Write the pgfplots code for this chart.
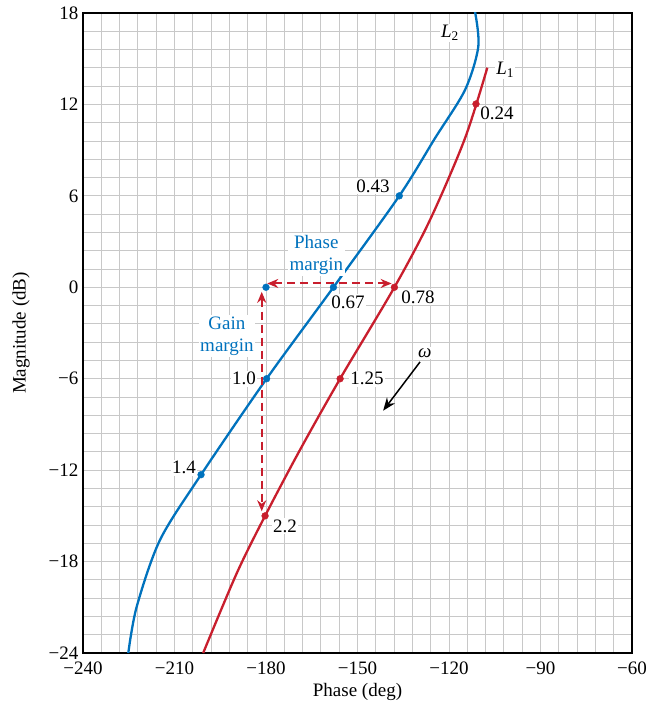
\documentclass[border=0pt]{standalone}
\usepackage{fontspec}
\setmainfont{Liberation Serif}
\usepackage{pgfplots}
\pgfplotsset{compat=1.18}
\usetikzlibrary{arrows.meta}
\definecolor{cblue}{RGB}{0,114,189}
\definecolor{cred}{RGB}{200,30,45}
\definecolor{gridc}{RGB}{200,200,200}
\begin{document}
\begin{tikzpicture}[font=\fontsize{19}{22}\selectfont]
\begin{axis}[
  scale only axis, width=549pt, height=640pt,
  xmin=-240, xmax=-60, ymin=-24, ymax=18,
  xtick={-240,-210,...,-60}, ytick={-24,-18,...,18},
  xticklabels={−240,−210,−180,−150,−120,−90,−60},
  yticklabels={−24,−18,−12,−6,0,6,12,18},
  minor x tick num=4, minor y tick num=4,
  grid=both,
  minor grid style={gridc, line width=0.9pt},
  major grid style={gridc, line width=0.9pt},
  tick style={draw=none},
  axis line style={line width=1.2pt},
  xlabel={Phase (deg)}, ylabel={Magnitude (dB)},
  xticklabel style={inner sep=1pt, yshift=-8pt},
  yticklabel style={inner sep=0.5pt, xshift=-4pt},
  xlabel style={at={(axis description cs:0.5,0)}, anchor=center, yshift=-39pt},
  ylabel style={at={(axis description cs:0,0.5)}, anchor=center, rotate=0, yshift=62pt},
]
% L2 (blue)
\addplot[cblue, line width=2.3pt, smooth, tension=0.5] coordinates {
  (-225.15,-24) (-222.39,-20.96) (-214.75,-16.58) (-201.3,-12.3) (-179.8,-6.0)
  (-157.9,0) (-136.3,6.0) (-124.6,9.78) (-114.75,12.95) (-110.39,15.79)
  (-111.48,18.09)
};
% L1 (red)
\addplot[cred, line width=2.3pt, smooth, tension=0.5] coordinates {
  (-200.6,-24) (-189.6,-18.77) (-180.3,-15.0) (-168.85,-10.67)
  (-155.7,-6.0) (-137.9,0) (-126.23,4.42) (-114.75,9.78) (-107.44,14.41)
};
% dashed margin arrows
\addplot[cred, line width=2pt, dash pattern=on 8pt off 5pt,
  {Stealth[length=11pt,width=9pt]}-{Stealth[length=11pt,width=9pt]}] coordinates {(-181.4,-0.3) (-181.4,-14.7)};
\addplot[cred, line width=2pt, dash pattern=on 8pt off 5pt,
  {Stealth[length=11pt,width=9pt]}-{Stealth[length=11pt,width=9pt]}] coordinates {(-179.6,0.25) (-138.8,0.25)};
% omega arrow
\addplot[black, line width=1.5pt, -{Stealth[length=13pt,width=10pt]}] coordinates {(-129.5,-4.9) (-141.6,-8.1)};
% dots
\addplot[only marks, mark=*, mark size=3.4pt, cblue] coordinates {
  (-201.3,-12.3) (-179.8,-6.0) (-157.9,0) (-136.3,6.0) (-180,0)
};
\addplot[only marks, mark=*, mark size=3.4pt, cred] coordinates {
  (-111.15,12.03) (-137.9,0) (-155.7,-6.0) (-180.3,-15.0)
};
% labels
\tikzset{lbl/.style={fill=white, inner sep=1.5pt}}
\node[lbl] at (axis cs:-119.7,16.7) {\textit{L}\textsubscript{2}};
\node[lbl] at (axis cs:-101.6,14.3) {\textit{L}\textsubscript{1}};
\node[lbl] at (axis cs:-104.3,11.4) {0.24};
\node[lbl] at (axis cs:-144.9,6.65) {0.43};
\node[lbl, text=cblue, align=center] at (axis cs:-163.5,2.15) {Phase\\margin};
\node[lbl] at (axis cs:-153.1,-0.96) {0.67};
\node[lbl] at (axis cs:-130.2,-0.63) {0.78};
\node[lbl, text=cblue, align=center] at (axis cs:-192.8,-3.2) {Gain\\margin};
\node[lbl] at (axis cs:-187.2,-6.0) {1.0};
\node[lbl] at (axis cs:-146.9,-6.0) {1.25};
\node[lbl] at (axis cs:-127.9,-4.3) {\textit{ω}};
\node[lbl] at (axis cs:-206.9,-11.85) {1.4};
\node[lbl] at (axis cs:-173.8,-15.66) {2.2};
\end{axis}
\path ([xshift=-83pt,yshift=13pt]current axis.north west) ([xshift=17pt,yshift=-58pt]current axis.south east);
\end{tikzpicture}
\end{document}
